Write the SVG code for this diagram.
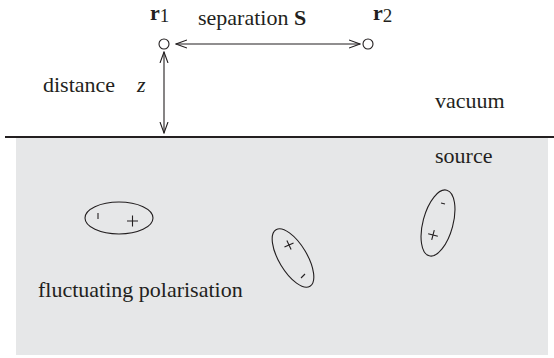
<svg xmlns="http://www.w3.org/2000/svg" width="554" height="358" viewBox="0 0 554 358">
<style>
text{font-family:'Liberation Serif','DejaVu Serif',serif;fill:#231f20;font-size:22px}
.b{font-weight:bold}
.i{font-style:italic}
.n{font-weight:normal}
.ln{stroke:#231f20;stroke-width:1.1;fill:none}
.el{stroke:#231f20;stroke-width:1.1;fill:none}
</style>
<defs>
<marker id="ah" viewBox="0 0 12 10" refX="11" refY="5" markerWidth="12" markerHeight="10" markerUnits="userSpaceOnUse" orient="auto-start-reverse">
<path d="M0,1 L11,5 L0,9" fill="none" stroke="#231f20" stroke-width="1.1"/>
</marker>
</defs>
<rect id="source-region" x="16" y="138" width="532" height="217" fill="#e6e7e8"/>
<line id="surface" x1="5" y1="137" x2="554" y2="137" stroke="#231f20" stroke-width="2"/>
<g id="connectors">
<line class="ln" x1="176" y1="44" x2="360" y2="44" marker-start="url(#ah)" marker-end="url(#ah)"/>
<line class="ln" x1="164" y1="52" x2="164" y2="133" marker-start="url(#ah)" marker-end="url(#ah)"/>
</g>
<g id="r1">
<circle cx="164" cy="44" r="5" fill="#fff" stroke="#231f20" stroke-width="1.1"/>
<text x="150" y="20" class="b">r<tspan class="n" font-size="19" dy="2">1</tspan></text>
</g>
<g id="r2">
<circle cx="368" cy="44" r="5" fill="#fff" stroke="#231f20" stroke-width="1.1"/>
<text x="373" y="20" class="b">r<tspan class="n" font-size="19" dy="2">2</tspan></text>
</g>
<g id="labels">
<text x="198" y="25" font-size="19.5">separation</text>
<text x="294" y="25" class="b">S</text>
<text x="43" y="92">distance</text>
<text x="137" y="92" class="i">z</text>
<text x="435" y="108">vacuum</text>
<text x="435" y="163">source</text>
<text x="38" y="297">fluctuating polarisation</text>
</g>
<g id="dipole1">
<ellipse class="el" cx="119" cy="218" rx="34" ry="16"/>
<line class="ln" x1="98" y1="213" x2="98" y2="219" stroke-width="1.6"/>
<path class="ln" d="M127,221 H138 M132.5,215.5 V226.5"/>
</g>
<g id="dipole2">
<ellipse class="el" cx="293" cy="258" rx="14" ry="33" transform="rotate(-31 293 258)"/>
<path class="ln" d="M284,245 H294 M289,240 V250" transform="rotate(-25 289 245)"/>
<line class="ln" x1="301" y1="278" x2="305" y2="274"/>
</g>
<g id="dipole3">
<ellipse class="el" cx="438" cy="223" rx="15" ry="34" transform="rotate(15 438 223)"/>
<line class="ln" x1="441" y1="203" x2="445" y2="204"/>
<path class="ln" d="M428,235 H438 M433,230 V240" transform="rotate(15 433 235)"/>
</g>
</svg>
